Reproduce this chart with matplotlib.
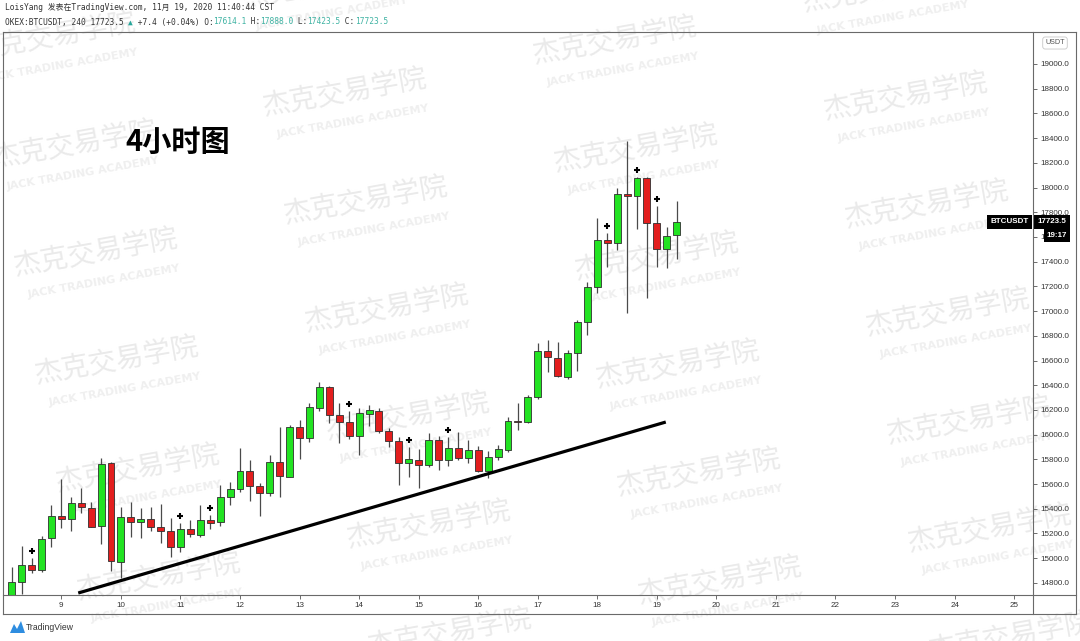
import matplotlib
matplotlib.use('Agg')
import matplotlib.pyplot as plt
import matplotlib.transforms as mtransforms
from matplotlib.lines import Line2D
from matplotlib.patches import Polygon
import numpy as np

W, H = 1080, 641

# BTCUSDT 4h candles
opens = [14690, 14810, 14945, 14904, 15164, 15342, 15315, 15449, 15409, 15261,
         15768, 14972, 15331, 15295, 15320, 15250, 15223, 15093, 15234, 15188,
         15309, 15290, 15493, 15558, 15708, 15587, 15525, 15781, 15660, 16059,
         15970, 16213, 16388, 16159, 16100, 15989, 16167, 16194, 16030, 15949,
         15773, 15795, 15754, 15957, 15795, 15890, 15809, 15876, 15708, 15817,
         15876, 16113, 16100, 16302, 16677, 16623, 16469, 16658, 16914, 17198,
         17575, 17548, 17948, 17932, 18080, 17716, 17500, 17614.1]
highs = [14929, 15099, 15002, 15180, 15431, 15640, 15498, 15571, 15457, 15809,
         15780, 15417, 15457, 15404, 15417, 15439, 15323, 15282, 15309, 15431,
         15350, 15592, 15619, 15889, 15795, 15611, 15835, 16064, 16078, 16119,
         16259, 16429, 16395, 16254, 16194, 16213, 16240, 16216, 16051, 15983,
         15898, 15881, 16011, 15989, 15983, 16024, 15957, 15908, 15870, 15916,
         16146, 16254, 16321, 16744, 16766, 16747, 16685, 16928, 17238, 17751,
         17635, 17994, 18379, 18085, 18085, 17851, 17683, 17888.0]
lows = [14650, 14710, 14880, 14888, 15093, 15242, 15223, 15363, 15250, 15115,
        14896, 14837, 15169, 15164, 15223, 15121, 15012, 15053, 15174, 15174,
        15234, 15261, 15431, 15538, 15463, 15342, 15503, 15498, 15655, 15800,
        15943, 16194, 16094, 15935, 15962, 15835, 16070, 16011, 15898, 15592,
        15655, 15566, 15741, 15714, 15746, 15795, 15773, 15700, 15647, 15795,
        15862, 16038, 16095, 16286, 16510, 16470, 16448, 16518, 16807, 17144,
        17354, 17495, 16987, 17662, 17104, 17359, 17346, 17423.5]
closes = [14807, 14945, 14904, 15153, 15342, 15315, 15449, 15412, 15255, 15760,
          14980, 15331, 15295, 15320, 15250, 15220, 15093, 15234, 15196, 15309,
          15287, 15493, 15558, 15708, 15587, 15525, 15781, 15665, 16059, 15975,
          16226, 16383, 16159, 16100, 15989, 16173, 16200, 16030, 15949, 15773,
          15800, 15754, 15957, 15795, 15890, 15809, 15876, 15708, 15817, 15881,
          16113, 16100, 16307, 16677, 16626, 16477, 16658, 16914, 17193, 17575,
          17554, 17948, 17932, 18080, 17711, 17500, 17608, 17723.5]

plus_idx = [2, 17, 20, 34, 40, 44, 60, 63, 65]   # candles with a "+" mark above
day_labels = list(range(9, 26))
first_day_idx = 5        # candle at 00:00 of the 9th
candles_per_day = 6
price_ticks = list(range(14800, 19001, 200))
trend_x = [6.7, 65.9]
trend_y = [14718, 16102]

GREEN = '#22e322'
RED = '#e31e1e'
TEAL = '#3fb3a3'


def fx(px):
    return px / W


def fy(py):
    return 1 - py / H


fig = plt.figure(figsize=(W / 100, H / 100), dpi=100)
fig.patch.set_facecolor('white')

ax = fig.add_axes([fx(4), fy(595), fx(1033) - fx(4), fy(32) - fy(595)])
ax.set_facecolor('none')

o = np.array(opens)
c = np.array(closes)
x = np.arange(len(opens))
cols = np.where(c >= o, GREEN, RED)

ax.vlines(x, lows, highs, color='#4a4a4a', lw=0.9, zorder=2)
ax.bar(x, np.maximum(np.abs(c - o), 6), bottom=np.minimum(o, c), width=0.7,
       color=cols, edgecolor='#2f2f2f', linewidth=0.6, zorder=3)

# "+" marks a few pixels above some highs
plus_tr = mtransforms.offset_copy(ax.transData, fig=fig, y=5, units='points')
ax.plot(plus_idx, [highs[i] for i in plus_idx], ls='none', marker='+', ms=5,
        mew=1.5, color='black', transform=plus_tr, zorder=4)

# trend line
ax.plot(trend_x, trend_y, color='black', lw=2.3, solid_capstyle='butt', zorder=5)

ax.set_xlim(-0.78, 102.9)
ax.set_ylim(14702, 19259)

# axes
for s in ax.spines.values():
    s.set_visible(False)
ax.yaxis.tick_right()
ax.set_yticks(price_ticks)
ax.set_yticklabels([f'{v:.1f}' for v in price_ticks])
ax.tick_params(axis='y', direction='out', length=3, width=0.6, pad=2,
               labelsize=5.8, colors='#555', labelcolor='#333')
ax.set_xticks([first_day_idx + candles_per_day * (d - 9) for d in day_labels])
ax.set_xticklabels([str(d) for d in day_labels])
ax.tick_params(axis='x', direction='out', length=3, width=0.6, pad=2,
               labelsize=5.8, colors='#555', labelcolor='#333')
for lab in ax.get_xticklabels() + ax.get_yticklabels():
    lab.set_family('Liberation Sans')

# frame of the chart widget
frame_c = '#6a6a6a'
for (x0, y0, x1, y1) in [(3, 32, 1076, 32), (3, 614, 1076, 614), (3, 32, 3, 614),
                         (1076, 32, 1076, 614), (1033, 32, 1033, 614),
                         (3, 595, 1076, 595)]:
    fig.add_artist(Line2D([fx(x0), fx(x1)], [fy(y0), fy(y1)], color=frame_c,
                          lw=0.8, transform=fig.transFigure))

# watermark
wm_font = ['Noto Sans CJK SC', 'DejaVu Sans']
for ci in range(-1, 5):
    for ri in range(-2, 8):
        px = 75 + 270 * ci + 21 * ri
        py = 145 - 52 * ci + 108 * ri
        if -80 < px < W + 80 and -40 < py < H + 40:
            fig.text(fx(px), fy(py), '杰克交易学院', family=wm_font, fontsize=20,
                     color='#eaeaea', rotation=10, ha='center', va='center',
                     zorder=-5)
            fig.text(fx(px + 8), fy(py + 29), 'JACK TRADING ACADEMY',
                     family='DejaVu Sans', weight='bold', fontsize=8,
                     color='#efefef', rotation=10, ha='center', va='center',
                     zorder=-5)

# chart caption
fig.text(fx(178), fy(142), '4小时图', family=['Noto Sans CJK SC', 'DejaVu Sans'],
         weight='bold', fontsize=21, color='black', ha='center', va='center')

# header lines
mono = ['DejaVu Sans Mono', 'Noto Sans CJK SC']
hsize = 5.65
fig.text(fx(5), fy(8), 'LoisYang 发表在TradingView.com, 11月 19, 2020 11:40:44 CST',
         family=mono, fontsize=hsize, color='#333333', va='center', ha='left')
segments = [('OKEX:BTCUSDT, 240 17723.5 ', '#333333'), ('▲', '#26a69a'),
            (' +7.4 (+0.04%) O:', '#333333'), ('17614.1', TEAL),
            (' H:', '#333333'), ('17888.0', TEAL), (' L:', '#333333'),
            ('17423.5', TEAL), (' C:', '#333333'), ('17723.5', TEAL)]
adv = 0.602 * hsize
n = 0
for s, col in segments:
    tr = mtransforms.offset_copy(fig.transFigure, fig=fig, x=n * adv, units='points')
    fig.text(fx(5), fy(22), s, family=mono, fontsize=hsize, color=col,
             va='center', ha='left', transform=tr)
    n += len(s)

# last price labels
blend = mtransforms.blended_transform_factory(ax.transAxes, ax.transData)
lbl = dict(xy=(1, closes[-1]), xycoords=blend, textcoords='offset points',
           va='center', fontsize=5.8, weight='bold', color='white',
           family='Liberation Sans', annotation_clip=False, zorder=10)
ax.annotate('BTCUSDT', xytext=(-3, 0), ha='right',
            bbox=dict(boxstyle='square,pad=0.45', fc='black', ec='none'), **lbl)
ax.annotate(f'{closes[-1]:.1f}', xytext=(3.5, 0), ha='left',
            bbox=dict(boxstyle='square,pad=0.45', fc='black', ec='none'), **lbl)
ax.annotate('19:17', xytext=(10, -10), ha='left',
            bbox=dict(boxstyle='square,pad=0.4', fc='black', ec='none'), **lbl)

# currency badge
fig.text(fx(1055), fy(43), 'USDT', family='Liberation Sans', fontsize=5.2,
         color='#555555', ha='center', va='center',
         bbox=dict(boxstyle='round,pad=0.35', fc='white', ec='#c8c8c8', lw=0.6))

# TradingView footer
logo = [(10, 633), (14, 624), (17, 629), (21, 621), (25, 633)]
fig.add_artist(Polygon([(fx(a), fy(b)) for a, b in logo], closed=True,
                       fc='#2e8de0', ec='none', transform=fig.transFigure))
fig.text(fx(26), fy(628), 'TradingView', family='Liberation Sans', fontsize=6.2,
         color='#333333', ha='left', va='center')

fig.savefig('out.png', dpi=100, facecolor='white')
